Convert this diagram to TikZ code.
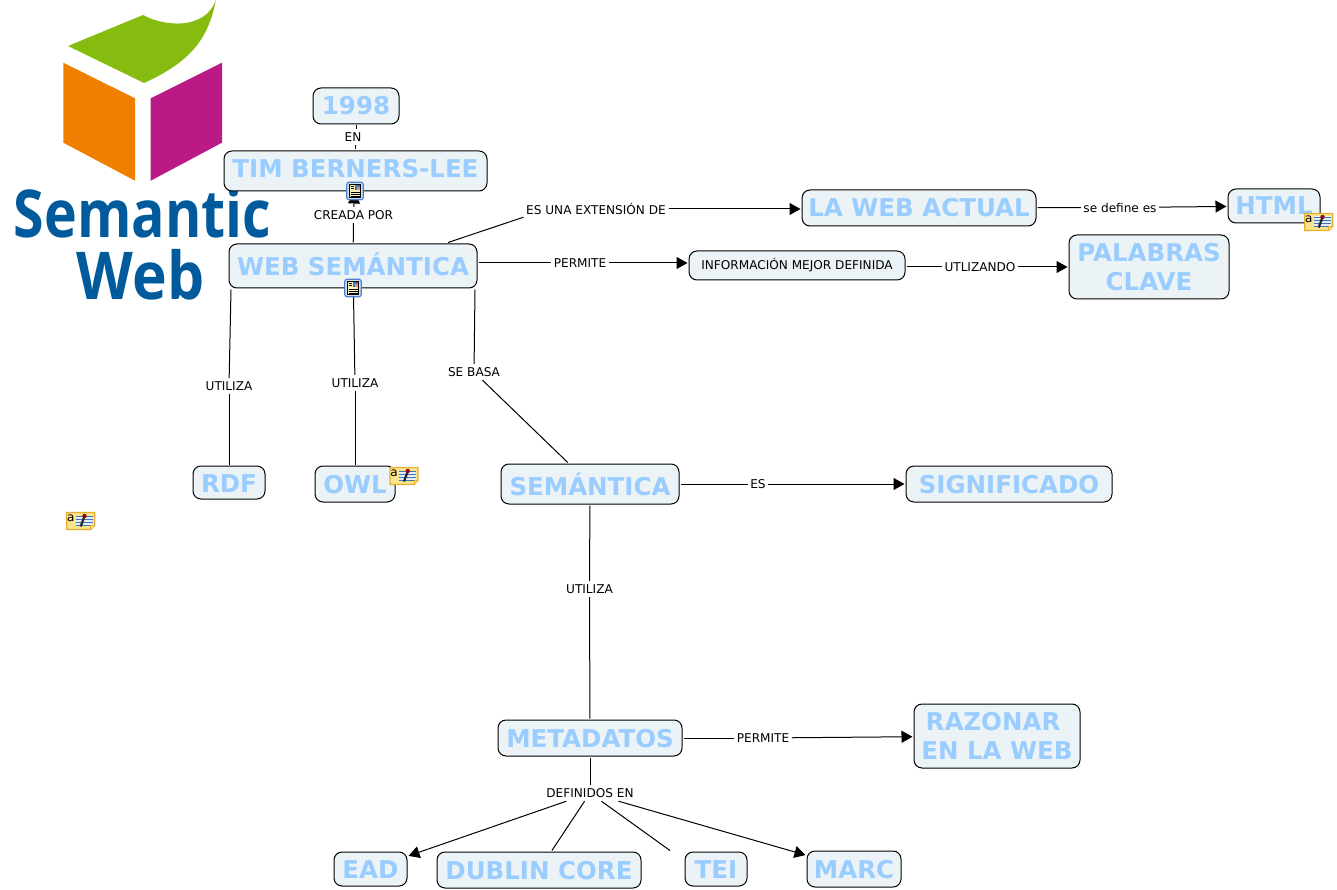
\documentclass[tikz,border=0pt]{standalone}
\usepackage{fontspec}
\setmainfont{DejaVu Sans}
\newfontfamily\logofont{Open Sans}
\usetikzlibrary{calc}
\usetikzlibrary{positioning}
\usetikzlibrary{arrows.meta}
\definecolor{boxfill}{HTML}{ECF3F7}
\definecolor{boxtext}{HTML}{99CCFF}
\definecolor{logoblue}{HTML}{005A9C}
\definecolor{logogreen}{HTML}{86BC0F}
\definecolor{logoorange}{HTML}{EF7F00}
\definecolor{logopink}{HTML}{B91A85}
\definecolor{notefill}{HTML}{FBE38E}
\definecolor{noteedge}{HTML}{E3AE2B}
\definecolor{notepage}{HTML}{E4EEF8}
\definecolor{noteline}{HTML}{3F74B5}
\definecolor{sheetedge}{HTML}{4A80CC}
\definecolor{sheetfill}{HTML}{CFE0F5}
\definecolor{sheetpage}{HTML}{FBF3B5}
\tikzset{
    conceptbase/.style={draw=black, line width=1pt, fill=boxfill, rounded corners=8pt, text=boxtext, outer sep=1.5pt, inner sep=0pt, align=center,
        font=\fontsize{24.5}{29}\selectfont\bfseries},
    concept/.style={conceptbase, text height=18pt, text depth=0pt},
    linklabel/.style={inner xsep=2.5pt, inner ysep=1pt, minimum height=16pt, font=\fontsize{12.1}{14}\selectfont},
    link/.style={draw=black, line width=1pt},
    linkto/.style={link, -{Triangle[length=11pt, width=12pt]}},
    notepic/.pic={
        \draw[draw=noteedge, line width=1.2pt, fill=notefill] (-14,-8.5) -- (14,-8.5) -- (14,4.5) -- (10,8.5) -- (-14,8.5) -- cycle;
        \fill[notepage] (-5,-5.5) rectangle (12,4);
        \foreach \yy in {-4.5,-1.5,1.5,4} {
            \draw[noteline, line width=0.7pt] (-5,\yy) -- (12,\yy);
        }
        \draw[noteedge, fill=notefill, line width=0.7pt] (10,8.5) -- (10,4.5) -- (14,4.5);
        \draw[black!85, line width=2.2pt] (0,5.5) -- (3.5,-4);
        \fill[red!60!black] (3.8,-5) circle (2.2pt);
        \node[inner sep=0pt, font=\fontsize{12}{12}\selectfont] at (-10,-3) {a};
    },
    sheetpic/.pic={
        \draw[draw=sheetedge, line width=1.2pt, fill=sheetfill, rounded corners=2.5pt] (-8.3,-8.8) rectangle (8.3,8.8);
        \draw[black, line width=0.9pt, fill=sheetpage] (-5.5,-6.5) rectangle (5.5,6.5);
        \foreach \yy in {-4.5,-2.5} {
            \draw[black, line width=0.7pt] (-4.5,\yy) -- (-1,\yy);
        }
        \fill[noteline] (-0.5,-5.5) rectangle (4.5,-0.5);
        \fill[red!50!white] (1.5,-3.5) rectangle (4.5,-0.5);
        \foreach \yy in {1,3,5} {
            \draw[black, line width=0.7pt] (-4.5,\yy) -- (4.5,\yy);
        }
    }
}

\begin{document}
\begin{tikzpicture}[x=1pt, y=-1pt]
    \useasboundingbox (0,0) rectangle (1337,890);

    % logo
    \fill[logogreen] (68,46) -- (143,15) .. controls (165,27) and (205,30) .. (216,0) .. controls (208,40) and (190,62) .. (144,83) -- cycle;
    \fill[logoorange] (63.3,62.7) -- (135,98.3) -- (135,180.7) -- (63.3,142.7) -- cycle;
    \fill[logopink] (150.7,98.3) -- (222,62.7) -- (222,142.7) -- (150.7,180.7) -- cycle;
    \node[inner sep=0pt, anchor=base, text=logoblue, font=\logofont\fontsize{66}{66}\selectfont\bfseries] (logoa) at (142.5,238) {\scalebox{0.84}[1]{Semantic}};
    \node[inner sep=0pt, anchor=base, text=logoblue, font=\logofont\fontsize{66}{66}\selectfont\bfseries] (logob) at (140.5,299) {\scalebox{0.89}[1]{Web}};

    % concepts
    \node[concept, minimum width=86pt, minimum height=36pt] (year) at (356,106) {1998};
    \node[concept, minimum width=263pt, minimum height=40pt, text depth=4pt] (tim) at (355.5,171) {TIM BERNERS-LEE};
    \node[concept, minimum width=248pt, minimum height=44pt, text height=19pt] (web) at (353,266) {WEB SEMÁNTICA};
    \node[concept, minimum width=234pt, minimum height=36pt] (actual) at (919,208) {LA WEB ACTUAL};
    \node[concept, minimum width=92pt, minimum height=34pt] (html) at (1274,206) {HTML};
    \node[concept, minimum width=216pt, minimum height=29pt, text=black, font=\fontsize{12.1}{14}\selectfont, text height=9pt] (info) at (797,265.5) {INFORMACIÓN MEJOR DEFINIDA};
    \node[conceptbase, minimum width=160pt, minimum height=64pt] (clave) at (1149,267) {PALABRAS\\CLAVE};
    \node[concept, minimum width=72pt, minimum height=33pt, text height=19pt] (rdf) at (229,482.5) {RDF};
    \node[concept, minimum width=80pt, minimum height=36pt, text height=18.5pt] (owl) at (355,484) {OWL};
    \node[concept, minimum width=178pt, minimum height=40pt, text height=23pt] (sem) at (590,484) {SEMÁNTICA};
    \node[concept, minimum width=206pt, minimum height=36pt] (signif) at (1009,484) {SIGNIFICADO};
    \node[concept, minimum width=184pt, minimum height=36pt] (meta) at (590,738) {METADATOS};
    \node[conceptbase, minimum width=166pt, minimum height=64pt] (razonar) at (997,736) {RAZONAR\hspace*{8pt}\\EN LA WEB};
    \node[concept, minimum width=73pt, minimum height=34pt] (ead) at (370.5,869) {EAD};
    \node[concept, minimum width=204pt, minimum height=36pt] (dublin) at (539,870) {DUBLIN CORE};
    \node[concept, minimum width=62pt, minimum height=34pt] (tei) at (716,869) {TEI};
    \node[concept, minimum width=94pt, minimum height=36pt] (marc) at (854,869) {MARC};

    % linking phrases
    \node[linklabel] (en) at (353,137) {EN};
    \node[linklabel] (creada) at (353.5,215) {CREADA POR};
    \node[linklabel] (ext) at (596,209) {ES UNA EXTENSIÓN DE};
    \node[linklabel] (define) at (1120,207.5) {se define es};
    \node[linklabel] (permite) at (580,263) {PERMITE};
    \node[linklabel] (utlizando) at (980,267) {UTLIZANDO};
    \node[linklabel] (usardf) at (229,386) {UTILIZA};
    \node[linklabel] (usaowl) at (355,383) {UTILIZA};
    \node[linklabel] (basa) at (474,372) {SE BASA};
    \node[linklabel] (es) at (758,484) {ES};
    \node[linklabel] (usameta) at (589.5,589) {UTILIZA};
    \node[linklabel] (permite2) at (763,738) {PERMITE};
    \node[linklabel] (definidos) at (590,793) {DEFINIDOS EN};

    % connectors
    \draw[link] (year.south) -- (en.north -| year.south);
    \draw[link] (en.south -| tim.north) -- (tim.north);
    \draw[link] (web) -- (creada);
    \draw[linkto] (creada) -- (tim);
    \draw[link] ($(web.north)+(95,0)$) -- (ext.south west);
    \draw[linkto] (ext) -- (actual.west |- ext);
    \draw[link] (actual) -- (define);
    \draw[linkto] (define) -- (html);
    \draw[link] (web.east |- permite) -- (permite);
    \draw[linkto] (permite) -- (info.west |- permite);
    \draw[link] (info.east |- utlizando) -- (utlizando);
    \draw[linkto] (utlizando) -- (clave);
    \draw[link] ($(web.south west)+(3.5,0)$) -- (usardf);
    \draw[link] (usardf) -- (rdf);
    \draw[link] (web) -- (usaowl);
    \draw[link] (usaowl) -- (owl);
    \draw[link] ($(web.south east)+(-3.5,0)$) -- (basa);
    \draw[link] (basa) -- (sem);
    \draw[link] (sem) -- (es);
    \draw[linkto] (es) -- (signif);
    \draw[link] (sem) -- (usameta);
    \draw[link] (usameta) -- (meta);
    \draw[link] (meta) -- (permite2);
    \draw[linkto] (permite2) -- (razonar);
    \draw[link] (meta) -- (definidos);
    \draw[linkto] (definidos) -- (ead);
    \draw[link] (definidos) -- (dublin);
    \draw[link] (definidos) -- ($(tei.north west)+(-13.5,0)$);
    \draw[linkto] (definidos) -- (marc);

    % icons
    \pic at (355,191) {sheetpic};
    \pic at (353,288) {sheetpic};
    \pic at (1318.7,222) {notepic};
    \pic at (404,476) {notepic};
    \pic at (80.7,521) {notepic};
\end{tikzpicture}
\end{document}
